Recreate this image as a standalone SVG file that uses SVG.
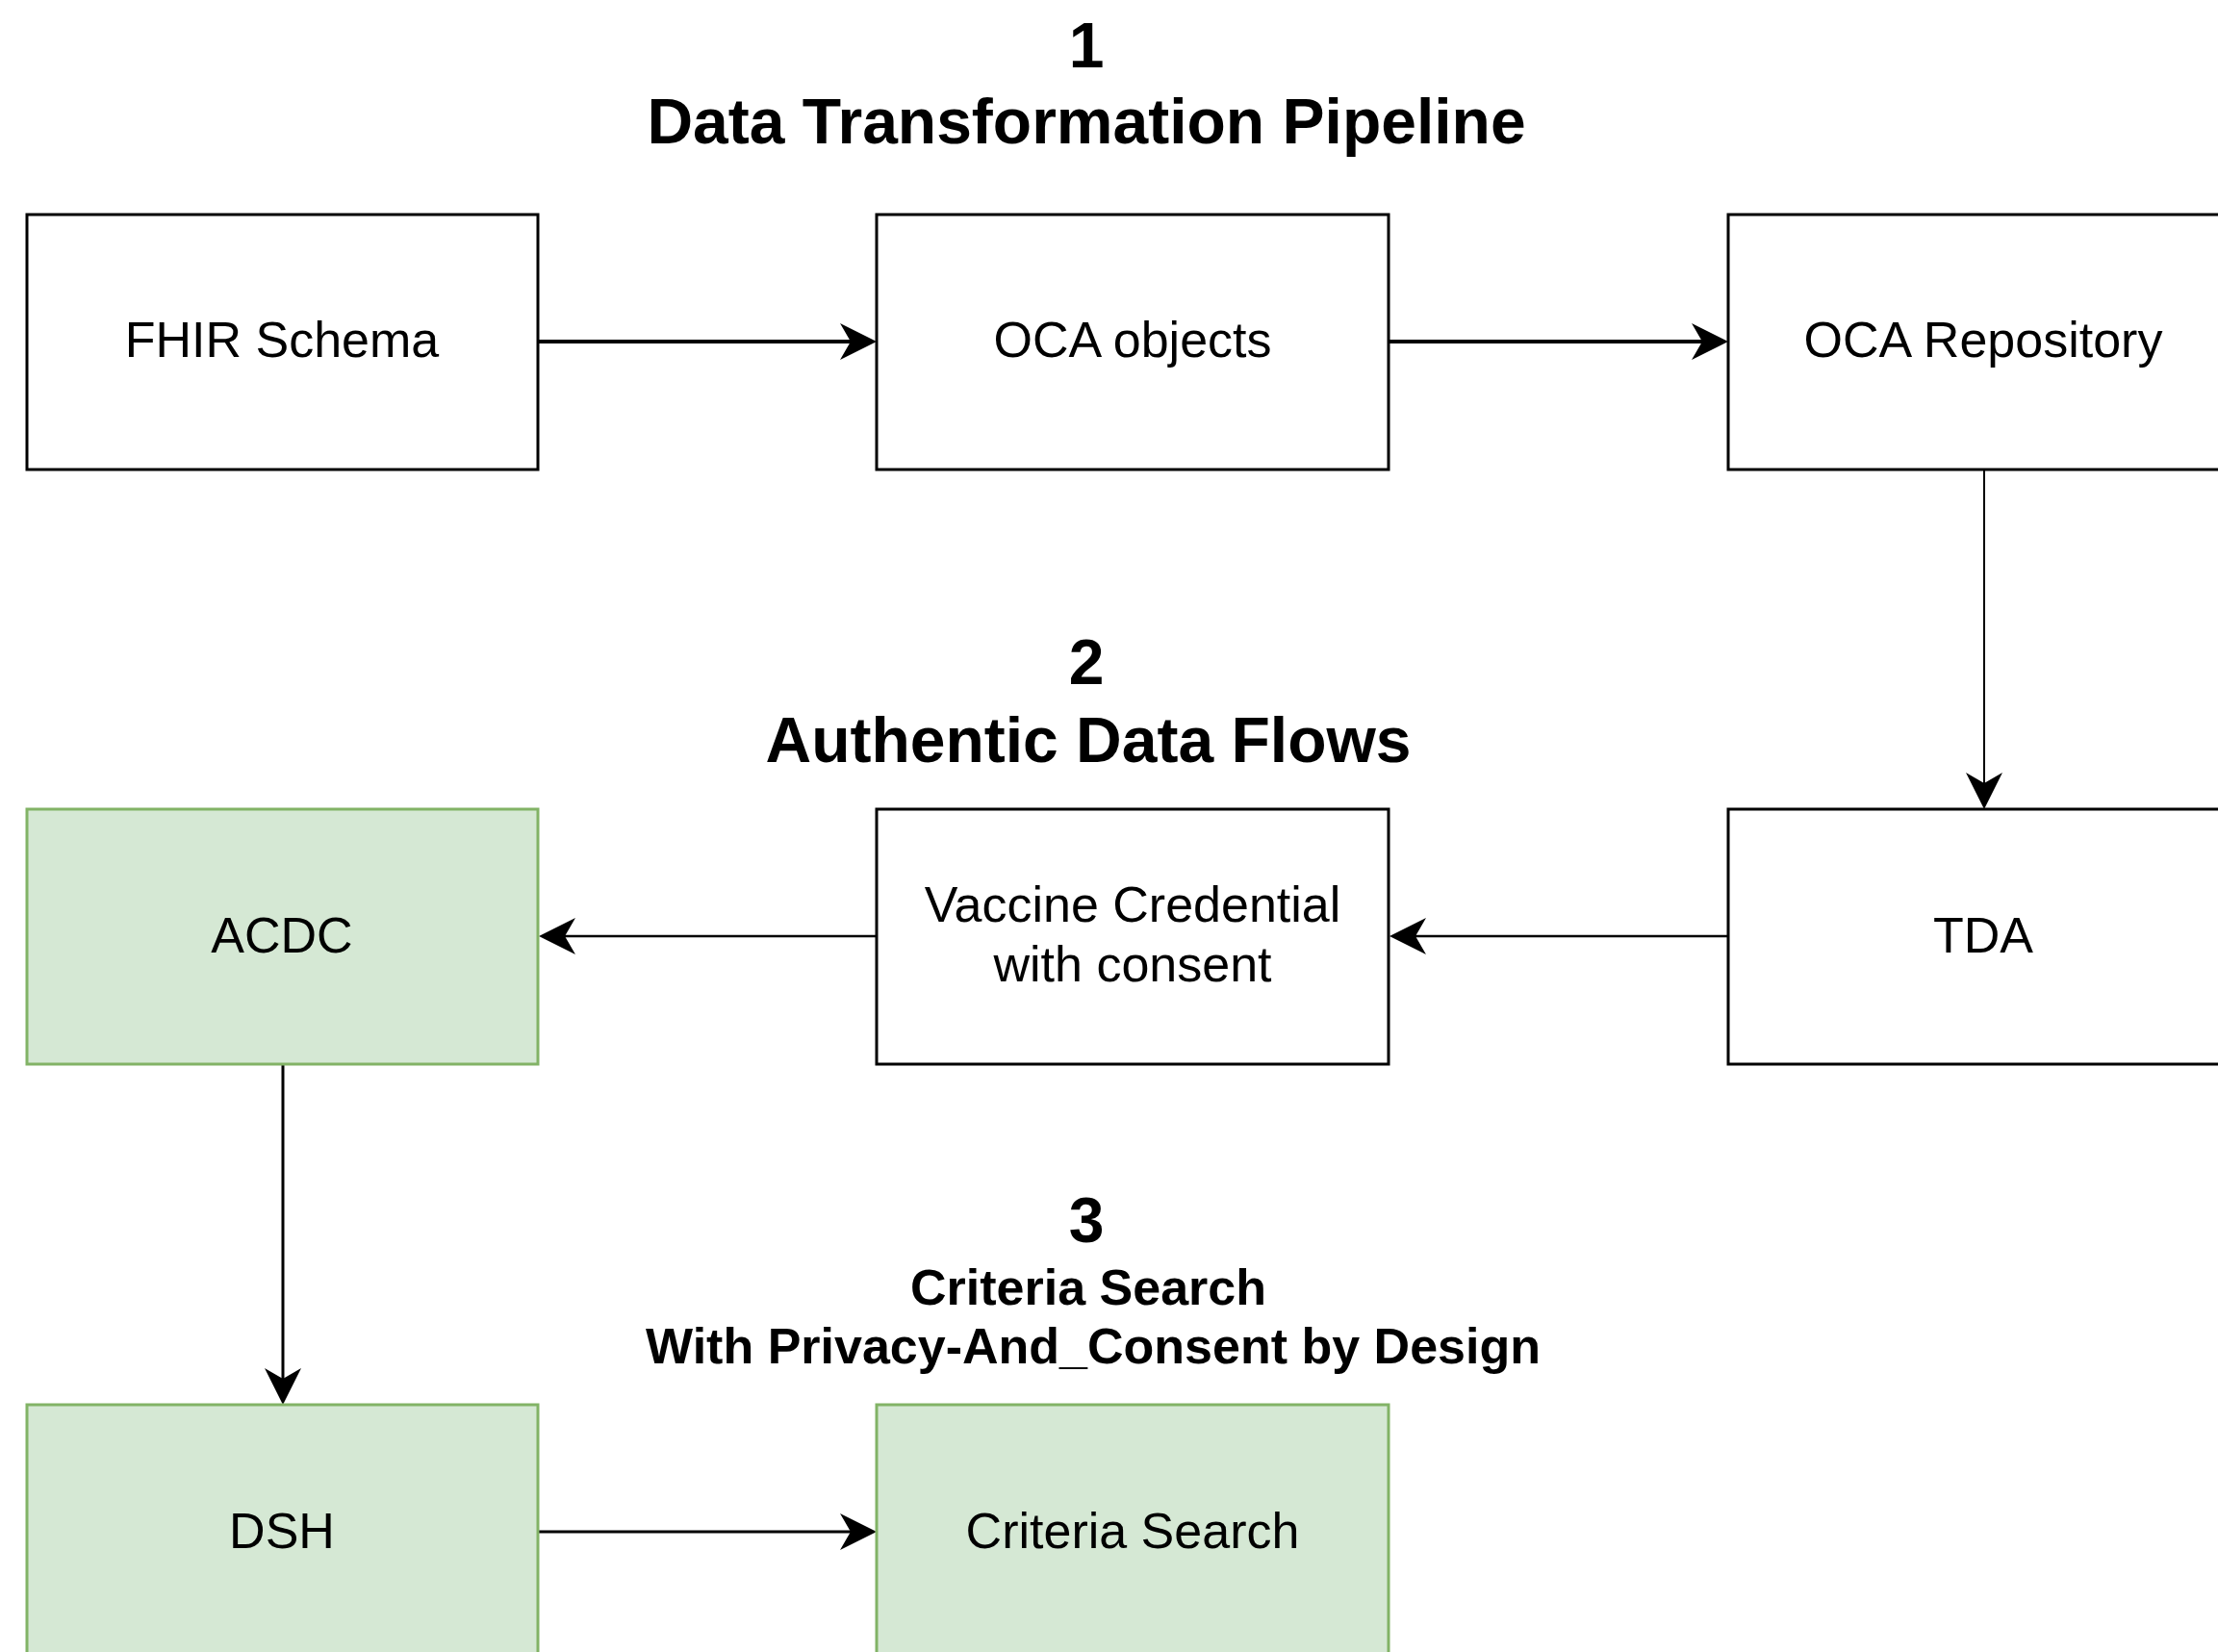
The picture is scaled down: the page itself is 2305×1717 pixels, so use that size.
<svg xmlns="http://www.w3.org/2000/svg" width="2305" height="1717" viewBox="0 0 2305 1717">
  <style>
    .box { fill: #ffffff; stroke: #000000; stroke-width: 3; }
    .green { fill: #d5e8d4; stroke: #82b366; stroke-width: 3; }
    .label { font-family: "Liberation Sans", Arial, Helvetica, sans-serif; font-size: 52px; fill: #000000; text-anchor: middle; }
    .num { font-family: "Liberation Sans", Arial, Helvetica, sans-serif; font-size: 66px; font-weight: bold; fill: #000000; text-anchor: middle; }
    .title { font-family: "Liberation Sans", Arial, Helvetica, sans-serif; font-size: 66px; font-weight: bold; fill: #000000; text-anchor: middle; }
    .subtitle { font-family: "Liberation Sans", Arial, Helvetica, sans-serif; font-size: 52px; font-weight: bold; fill: #000000; text-anchor: middle; }
    .edge { fill: none; stroke: #000000; }
  </style>
  <defs>
    <marker id="arrow" markerUnits="userSpaceOnUse" viewBox="0 0 38 38" markerWidth="38" markerHeight="38" refX="11" refY="19" orient="auto">
      <path d="M0,0 L38,19 L0,38 L11,19 Z" fill="#000000"/>
    </marker>
  </defs>

  <rect width="2305" height="1717" fill="#ffffff"/>

  <!-- section headings -->
  <g id="heading-1">
    <text class="num" x="1129" y="70">1</text>
    <text class="title" x="1129" y="149">Data Transformation Pipeline</text>
  </g>
  <g id="heading-2">
    <text class="num" x="1129" y="711">2</text>
    <text class="title" x="1131" y="792">Authentic Data Flows</text>
  </g>
  <g id="heading-3">
    <text class="num" x="1129" y="1291">3</text>
    <text class="subtitle" x="1131" y="1356">Criteria Search</text>
    <text class="subtitle" x="1136" y="1417">With Privacy-And_Consent by Design</text>
  </g>

  <!-- connectors -->
  <g id="connectors">
    <line class="edge" stroke-width="4" x1="559" y1="355" x2="884" y2="355" marker-end="url(#arrow)"/>
    <line class="edge" stroke-width="4" x1="1443" y1="355" x2="1769" y2="355" marker-end="url(#arrow)"/>
    <line class="edge" stroke-width="2" x1="2062" y1="488" x2="2062" y2="814" marker-end="url(#arrow)"/>
    <line class="edge" stroke-width="2.5" x1="1796" y1="973" x2="1471" y2="973" marker-end="url(#arrow)"/>
    <line class="edge" stroke-width="2.5" x1="911" y1="973" x2="587" y2="973" marker-end="url(#arrow)"/>
    <line class="edge" stroke-width="3" x1="294" y1="1106" x2="294" y2="1433" marker-end="url(#arrow)"/>
    <line class="edge" stroke-width="3" x1="559" y1="1592" x2="884" y2="1592" marker-end="url(#arrow)"/>
  </g>

  <!-- row 1 -->
  <g id="fhir-schema">
    <rect class="box" x="28" y="223" width="531" height="265"/>
    <text class="label" x="293" y="371">FHIR Schema</text>
  </g>
  <g id="oca-objects">
    <rect class="box" x="911" y="223" width="532" height="265"/>
    <text class="label" x="1177" y="371">OCA objects</text>
  </g>
  <g id="oca-repository">
    <rect class="box" x="1796" y="223" width="531" height="265"/>
    <text class="label" x="2061" y="371">OCA Repository</text>
  </g>

  <!-- row 2 -->
  <g id="acdc">
    <rect class="green" x="28" y="841" width="531" height="265"/>
    <text class="label" x="293" y="990">ACDC</text>
  </g>
  <g id="vaccine-credential">
    <rect class="box" x="911" y="841" width="532" height="265"/>
    <text class="label" x="1177" y="958">Vaccine Credential</text>
    <text class="label" x="1177" y="1020">with consent</text>
  </g>
  <g id="tda">
    <rect class="box" x="1796" y="841" width="531" height="265"/>
    <text class="label" x="2061" y="990">TDA</text>
  </g>

  <!-- row 3 -->
  <g id="dsh">
    <rect class="green" x="28" y="1460" width="531" height="265"/>
    <text class="label" x="293" y="1609">DSH</text>
  </g>
  <g id="criteria-search">
    <rect class="green" x="911" y="1460" width="532" height="265"/>
    <text class="label" x="1177" y="1609">Criteria Search</text>
  </g>
</svg>
